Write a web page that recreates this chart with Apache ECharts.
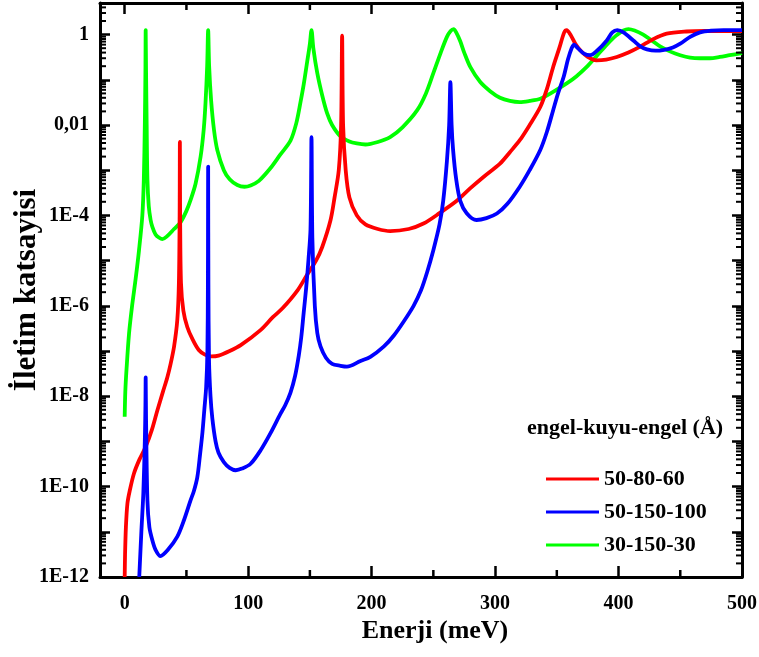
<!DOCTYPE html>
<html>
<head>
<meta charset="utf-8">
<script src="https://cdn.jsdelivr.net/npm/echarts@6/dist/echarts.min.js"></script>
<style>
html,body{margin:0;padding:0;background:#fff;}
#chart{width:759px;height:657px;}
</style>
</head>
<body>
<div id="chart"></div>
<script>
// ---- data (energy in meV, transmission coefficient) ----
const seriesNames = ['50-80-60', '50-150-100', '30-150-30'];
const seriesColors = ['#ff0000', '#0000ff', '#00ff00'];

const energyRed = [0,0.3,1,2.2,4,7.5,12,17,22,26.5,31,34.5,37.2,40,42.6,43.9,44.5,44.7,44.9,45.6,47.5,50.7,55,60,65,70,76,85,94,110,120,128,140,148,155,160,166.7,170,173.4,175.3,176.1,176.9,179,182,188,195,205,215,230,242,255,269,280,290.6,304,312,320,328,336.6,342,347,352,356,358,361,365,369,375,382,390,398.6,408,417.5,428,439,455,470,485,500];
const transRed = [1e-12,3.2e-12,1.3e-11,4.2e-11,7.9e-11,1.95e-10,4.0e-10,7.6e-10,1.8e-9,4.9e-9,1.26e-8,2.6e-8,5.2e-8,1.26e-7,4.8e-7,3.2e-6,1e-4,4.2e-3,1e-4,3.2e-6,7.9e-7,3.4e-7,1.8e-7,1.05e-7,8.3e-8,7.6e-8,7.9e-8,1.0e-7,1.35e-7,2.9e-7,5.6e-7,8.9e-7,2.2e-6,5.0e-6,1.0e-5,2.0e-5,7.8e-5,2.5e-4,1.0e-3,1e-2,0.95,1e-2,1e-3,2.5e-4,1e-4,6.3e-5,5.0e-5,4.5e-5,5.0e-5,6.6e-5,1.12e-4,2.1e-4,4.0e-4,7.1e-4,1.4e-3,2.5e-3,4.6e-3,1e-2,2.5e-2,6.3e-2,0.19,0.5,1.12,1.26,1.0,0.63,0.45,0.32,0.27,0.28,0.32,0.4,0.54,0.79,1.05,1.17,1.2,1.2,1.2];

const energyBlue = [11.8,13.5,15.1,16.3,16.8,17,17.3,18.4,20,22.4,25,29,35,42.6,48,53.4,56,58.8,61,63,64.5,66,67,67.4,67.6,67.8,68.3,69.5,71,73.6,76,80.3,85,90,95,102,110,118,126,130,134.3,138,141,143,145,147,148.8,150.5,151.3,152,154,156,158.6,163,168,174.8,180,191,199,210,218,226,234,240,245,250,255,258,261,262.8,263.8,264.8,266,268.5,271.8,277,285,293,301.5,310,320,328,336.6,342,347,351,355.5,359,362,364,367,372,377,383,390.5,395,399,404,412,418,423,430,437,444,450,458,466,475,485,500];
const transBlue = [1e-12,1e-11,7.1e-11,1e-9,6.3e-9,2.6e-8,3.2e-9,5.0e-11,1.26e-11,6.5e-12,4.0e-12,2.9e-12,4.0e-12,7.8e-12,1.8e-11,5.0e-11,7.9e-11,1.6e-10,5.0e-10,1.6e-9,5.0e-9,1.6e-8,1e-7,3.2e-6,1.2e-3,3.2e-6,6.3e-8,1e-8,3.2e-9,1e-9,5.6e-10,3.5e-10,2.6e-10,2.3e-10,2.5e-10,3.2e-10,6.3e-10,1.5e-9,4.0e-9,6.3e-9,1.2e-8,2.8e-8,7.9e-8,2.0e-7,7.1e-7,2.5e-6,1e-5,5.0e-5,5.4e-3,3.2e-5,1e-6,2.5e-7,1.26e-7,7.1e-8,5.2e-8,4.7e-8,4.5e-8,6.0e-8,7.4e-8,1.26e-7,2.2e-7,4.5e-7,1.0e-6,2.2e-6,5.6e-6,1.7e-5,6.3e-5,2.1e-4,1.6e-3,1e-2,8.9e-2,1e-2,2.8e-3,6.3e-4,2.1e-4,1.12e-4,7.9e-5,8.7e-5,1.1e-4,1.8e-4,4.3e-4,1e-3,2.8e-3,7.1e-3,2.1e-2,5.0e-2,0.115,0.28,0.5,0.6,0.5,0.38,0.35,0.45,0.74,1.12,1.26,1.12,0.74,0.54,0.47,0.44,0.46,0.52,0.63,0.89,1.12,1.23,1.26,1.26];

const energyGreen = [0,0.5,1.5,3.5,6,8.9,11.6,14.3,15.5,16.3,16.8,17,17.3,17.8,18.4,19.5,21,22.4,25,28,30.5,34,40,45.3,50,53.4,57.4,61.5,64,65.5,66.8,67.6,68.4,70,72.3,75,80.3,85,91.2,97,102,108.7,118,126,134.3,139,142.4,145,147.8,150,151.3,152.8,156,160,164,168,174.8,182,188,195,205,215,225,236.8,244,250,256,261,264,266.4,268.5,271.8,275,280,288,296,304,312,320,328,336.6,345,358,366,374,382,390.5,398,404,408,413,420,427,434,442,450,458,466,474,482,490,500];
const transGreen = [3.5e-9,1.26e-8,4.0e-8,2.4e-7,1e-6,4.0e-6,1.7e-5,1e-4,6.3e-4,1e-2,0.16,1.26,0.16,1e-2,6.3e-4,1.6e-4,7.9e-5,5.6e-5,3.8e-5,3.2e-5,3.0e-5,3.4e-5,5.0e-5,7.1e-5,1.26e-4,2.2e-4,5.0e-4,2.0e-3,7.9e-3,3.2e-2,0.2,1.26,0.2,3.5e-2,7.9e-3,2.8e-3,1e-3,6.3e-4,4.7e-4,4.3e-4,4.6e-4,5.8e-4,1.1e-3,2.2e-3,4.5e-3,1.1e-2,3.2e-2,7.9e-2,0.25,0.63,1.26,0.5,0.14,4.5e-2,1.8e-2,1e-2,5.6e-3,4.3e-3,3.9e-3,3.7e-3,4.2e-3,5.4e-3,8.9e-3,2.1e-2,5.0e-2,0.14,0.4,0.89,1.2,1.32,1.12,0.71,0.4,0.19,8.9e-2,5.6e-2,4.0e-2,3.4e-2,3.2e-2,3.4e-2,3.8e-2,5.0e-2,8.3e-2,0.12,0.19,0.33,0.6,0.95,1.23,1.32,1.23,1.0,0.74,0.54,0.42,0.35,0.31,0.30,0.30,0.32,0.35,0.39];

const xTickLabels = ['0','100','200','300','400','500'];
const yTickExponents = [0,-2,-4,-6,-8,-10,-12];
const yTickLabels = ['1','0,01','1E-4','1E-6','1E-8','1E-10','1E-12'];

// ---- axis ranges (y axis is drawn in decades: log10 of the transmission) ----
const xMin = -20, xMax = 500;
const yMinDec = -12, yMaxDec = Math.log10(5);

// minor tick positions (axis decoration)
const yMinorTicks = [];
for (let d = -12; d <= 0; d++) {
  for (let k = 2; k <= 9; k++) {
    const lv = d + Math.log10(k);
    if (lv < yMaxDec) yMinorTicks.push(lv);
  }
}
const xMinorTicks = [50,150,250,350,450];

const FONT = '"Liberation Serif", "Times New Roman", serif';

function pairs(xs, ys) { return xs.map((x, i) => [x, Math.log10(ys[i])]); }

const chart = echarts.init(document.getElementById('chart'), null, {renderer: 'canvas'});

function yLabel(v) {
  const e = Math.round(v);
  if (Math.abs(v - e) > 1e-6) return '';
  const idx = yTickExponents.indexOf(e);
  return idx >= 0 ? yTickLabels[idx] : '';
}
function xLabel(v) {
  if (Math.abs(v - Math.round(v)) > 1e-9) return '';
  const s = String(Math.round(v));
  return xTickLabels.indexOf(s) >= 0 ? s : '';
}

const lineSeries = [
  {name: seriesNames[2], color: seriesColors[2], d: pairs(energyGreen, transGreen)},
  {name: seriesNames[0], color: seriesColors[0], d: pairs(energyRed, transRed)},
  {name: seriesNames[1], color: seriesColors[1], d: pairs(energyBlue, transBlue)}
].map(s => ({
  type: 'line', name: s.name, data: s.d, showSymbol: false, symbol: 'none',
  smooth: 0.3,
  lineStyle: {color: s.color, width: 3.8, join: 'round'}, itemStyle: {color: s.color},
  animation: false, z: 3
}));

const axisText = {fontFamily: FONT, fontWeight: 'bold', fontSize: 20, color: '#000'};

const option = {
  animation: false,
  backgroundColor: '#fff',
  title: {
    text: 'engel-kuyu-engel (Å)', left: 527, top: 417, padding: 0,
    textStyle: {fontFamily: FONT, fontWeight: 'bold', fontSize: 22, color: '#000'}
  },
  legend: {
    data: seriesNames, orient: 'vertical', left: 546, top: 468, padding: 0,
    itemWidth: 53, itemHeight: 14, itemGap: 11,
    icon: 'path://M0,6L53,6L53,9L0,9Z',
    textStyle: {fontFamily: FONT, fontWeight: 'bold', fontSize: 22, color: '#000', lineHeight: 22}
  },
  grid: {left: 100, right: 17, top: 3, bottom: 80, containLabel: false, outerBoundsMode: 'none'},
  xAxis: [{
    type: 'value', min: xMin, max: xMax, splitNumber: 5, position: 'bottom',
    name: 'Enerji (meV)', nameLocation: 'middle', nameGap: 41, nameMoveOverlap: false,
    nameTextStyle: {fontFamily: FONT, fontWeight: 'bold', fontSize: 26, color: '#000', padding: [0,0,0,28]},
    axisLine: {onZero: false, lineStyle: {color: '#000', width: 3}},
    axisTick: {inside: true, length: 11, lineStyle: {color: '#000', width: 2.5}},
    axisLabel: Object.assign({formatter: xLabel, margin: 17}, axisText),
    splitLine: {show: false}
  }, {
    type: 'value', min: xMin, max: xMax, splitNumber: 5, position: 'top',
    axisLine: {onZero: false, lineStyle: {color: '#000', width: 3}},
    axisTick: {inside: true, length: 11, lineStyle: {color: '#000', width: 2.5}},
    axisLabel: {show: false}, splitLine: {show: false}
  }],
  yAxis: [{
    type: 'value', min: yMinDec, max: yMaxDec, interval: 1, position: 'left',
    name: 'İletim katsayisi', nameLocation: 'middle', nameGap: 58, nameRotate: 90, nameMoveOverlap: false,
    nameTextStyle: {fontFamily: FONT, fontWeight: 'bold', fontSize: 31, color: '#000'},
    axisLine: {onZero: false, lineStyle: {color: '#000', width: 3}},
    axisTick: {inside: true, length: 10, lineStyle: {color: '#000', width: 2.5}},
    axisLabel: Object.assign({formatter: yLabel, margin: 11, showMaxLabel: false}, axisText),
    splitLine: {show: false}
  }, {
    type: 'value', min: yMinDec, max: yMaxDec, interval: 1, position: 'right',
    axisLine: {onZero: false, lineStyle: {color: '#000', width: 3}},
    axisTick: {inside: true, length: 10, lineStyle: {color: '#000', width: 2.5}},
    axisLabel: {show: false}, splitLine: {show: false}
  }],
  series: lineSeries.concat([
    {
      type: 'custom', name: 'yMinorTicks', silent: true, z: 5, clip: false,
      data: yMinorTicks.map(v => [xMin, v]),
      encode: {x: 0, y: 1},
      renderItem: function (params, api) {
        const v = api.value(1);
        const l = api.coord([xMin, v]);
        const r = api.coord([xMax, v]);
        const st = {stroke: '#000', lineWidth: 2};
        return {type: 'group', children: [
          {type: 'line', shape: {x1: l[0], y1: l[1], x2: l[0] + 6, y2: l[1]}, style: st},
          {type: 'line', shape: {x1: r[0], y1: r[1], x2: r[0] - 6, y2: r[1]}, style: st}
        ]};
      }
    },
    {
      type: 'custom', name: 'xMinorTicks', silent: true, z: 5, clip: false,
      data: xMinorTicks.map(e => [e, yMinDec]),
      encode: {x: 0, y: 1},
      renderItem: function (params, api) {
        const e = api.value(0);
        const b = api.coord([e, yMinDec]);
        const t = api.coord([e, yMaxDec]);
        const st = {stroke: '#000', lineWidth: 2.5};
        return {type: 'group', children: [
          {type: 'line', shape: {x1: b[0], y1: b[1], x2: b[0], y2: b[1] - 7}, style: st},
          {type: 'line', shape: {x1: t[0], y1: t[1], x2: t[0], y2: t[1] + 7}, style: st}
        ]};
      }
    }
  ])
};
chart.setOption(option);
</script>
</body>
</html>
